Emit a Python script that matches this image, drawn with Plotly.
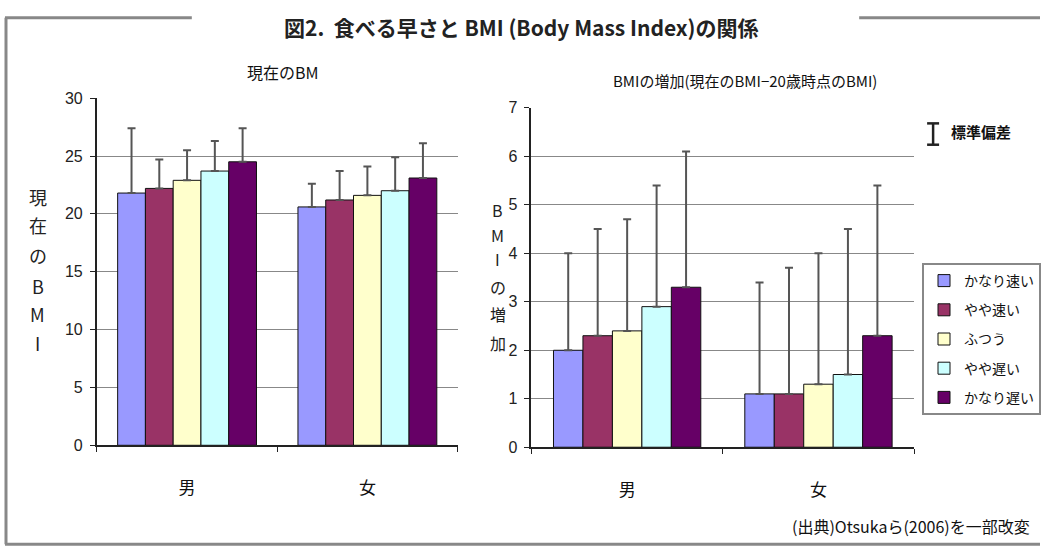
import plotly.graph_objects as go

W, H = 1041, 559
categories = ["男", "女"]
speeds = ["かなり速い", "やや速い", "ふつう", "やや遅い", "かなり遅い"]
colors = ["#9999FF", "#993366", "#FFFFCC", "#CCFFFF", "#660066"]

# 現在のBMI: mean per speed, [男, 女]
bmi_now = [[21.8, 20.6], [22.2, 21.2], [22.9, 21.6], [23.7, 22.0], [24.5, 23.1]]
bmi_now_sd_top = [[27.4, 22.6], [24.7, 23.7], [25.5, 24.1], [26.3, 24.9], [27.4, 26.1]]

# BMIの増加
bmi_inc = [[2.0, 1.1], [2.3, 1.1], [2.4, 1.3], [2.9, 1.5], [3.3, 2.3]]
bmi_inc_sd_top = [[4.0, 3.4], [4.5, 3.7], [4.7, 4.0], [5.4, 4.5], [6.1, 5.4]]

JP = "Noto Sans CJK JP"
NUM = "Liberation Sans"

fig = go.Figure()
for i, (name, col) in enumerate(zip(speeds, colors)):
    plus = [t - v for t, v in zip(bmi_now_sd_top[i], bmi_now[i])]
    fig.add_trace(go.Bar(
        x=categories, y=bmi_now[i], name=name, xaxis="x", yaxis="y",
        marker=dict(color=col, line=dict(color="#111111", width=1)),
        error_y=dict(type="data", symmetric=False, array=plus, arrayminus=[0, 0],
                     color="#555555", thickness=2, width=4),
        legendgroup=f"g{i}", showlegend=True,
    ))
for i, (name, col) in enumerate(zip(speeds, colors)):
    plus = [t - v for t, v in zip(bmi_inc_sd_top[i], bmi_inc[i])]
    fig.add_trace(go.Bar(
        x=categories, y=bmi_inc[i], name=name, xaxis="x2", yaxis="y2",
        marker=dict(color=col, line=dict(color="#111111", width=1)),
        error_y=dict(type="data", symmetric=False, array=plus, arrayminus=[0, 0],
                     color="#555555", thickness=2, width=4),
        legendgroup=f"g{i}", showlegend=False,
    ))

def px(x):
    return x / W

def py(y):
    return 1 - y / H

axis_common = dict(showline=True, linecolor="#222222", linewidth=2,
                   ticks="outside", ticklen=5, tickcolor="#222222", tickwidth=1)

fig.update_layout(
    width=W, height=H, margin=dict(l=0, r=0, t=0, b=0),
    paper_bgcolor="white", plot_bgcolor="white",
    barmode="group", bargap=0.23, bargroupgap=0,
    xaxis=dict(domain=[px(97), px(458)], anchor="y", tickson="boundaries",
               tickfont=dict(family=JP, size=17, color="#111111"),
               ticklabelstandoff=26, **axis_common),
    yaxis=dict(domain=[py(451), py(93)], anchor="x", range=[0, 30], dtick=5,
               showgrid=True, gridcolor="#888888", gridwidth=1,
               tickfont=dict(family=NUM, size=16, color="#222222"),
               ticklabelstandoff=4, **axis_common),
    xaxis2=dict(domain=[px(532), px(915)], anchor="y2", tickson="boundaries",
                tickfont=dict(family=JP, size=17, color="#111111"),
                ticklabelstandoff=26, **axis_common),
    yaxis2=dict(domain=[py(453), py(103)], anchor="x2", range=[0, 7], dtick=1,
                showgrid=True, gridcolor="#888888", gridwidth=1,
                tickfont=dict(family=NUM, size=16, color="#222222"),
                ticklabelstandoff=4, **axis_common),
    legend=dict(x=px(923), y=py(263), xanchor="left", yanchor="top",
                bgcolor="white", bordercolor="#888888", borderwidth=2,
                font=dict(family=JP, size=14, color="#111111"),
                tracegroupgap=8, itemwidth=30),
    showlegend=True,
)

annotations = [
    dict(x=px(522), y=py(20), text="<b>図2.  食べる早さと BMI (Body Mass Index)の関係</b>",
         font=dict(family=JP, size=21, color="#222222")),
    dict(x=px(283), y=py(66), text="現在のBM", font=dict(family=JP, size=16, color="#111111")),
    dict(x=px(746), y=py(75), text="BMIの増加(現在のBMI−20歳時点のBMI)",
         font=dict(family=JP, size=15, color="#111111")),
    dict(x=px(982), y=py(127), text="<b>標準偏差</b>",
         font=dict(family=JP, size=15, color="#111111")),
    dict(x=px(1033), y=py(534), text="(出典)Otsukaら(2006)を一部改変", xanchor="right",
         font=dict(family=JP, size=16, color="#111111")),
]
left_title_y = [195, 224, 255, 287, 316, 345]
for ch, yy in zip("現在のBMI", left_title_y):
    annotations.append(dict(x=px(38), y=py(yy), text=ch,
                            font=dict(family=JP, size=18, color="#222222")))
right_title_y = [208, 234, 259, 288, 316, 345]
for ch, yy in zip("BMIの増加", right_title_y):
    annotations.append(dict(x=px(498), y=py(yy), text=ch,
                            font=dict(family=JP, size=16, color="#222222")))
for a in annotations:
    a.update(xref="paper", yref="paper", showarrow=False)
    a.setdefault("xanchor", "center")
    a["yanchor"] = "middle"
fig.update_layout(annotations=annotations)

frame = dict(color="#888888", width=3)
shapes = [
    dict(type="line", x0=px(6), x1=px(6), y0=py(10), y1=py(553), line=frame),
    dict(type="line", x0=px(5), x1=px(192), y0=py(10), y1=py(10), line=frame),
    dict(type="line", x0=px(860), x1=px(1041), y0=py(10), y1=py(10), line=frame),
    dict(type="line", x0=px(5), x1=px(1041), y0=py(553), y1=py(553), line=frame),
    # error-bar legend glyph
    dict(type="line", x0=px(934), x1=px(934), y0=py(119), y1=py(141),
         line=dict(color="#222222", width=2.5)),
    dict(type="line", x0=px(928), x1=px(940), y0=py(119), y1=py(119),
         line=dict(color="#222222", width=2.5)),
    dict(type="line", x0=px(928), x1=px(940), y0=py(141), y1=py(141),
         line=dict(color="#222222", width=2.5)),
]
for s in shapes:
    s.update(xref="paper", yref="paper")
fig.update_layout(shapes=shapes)

fig.write_html("out.html")
